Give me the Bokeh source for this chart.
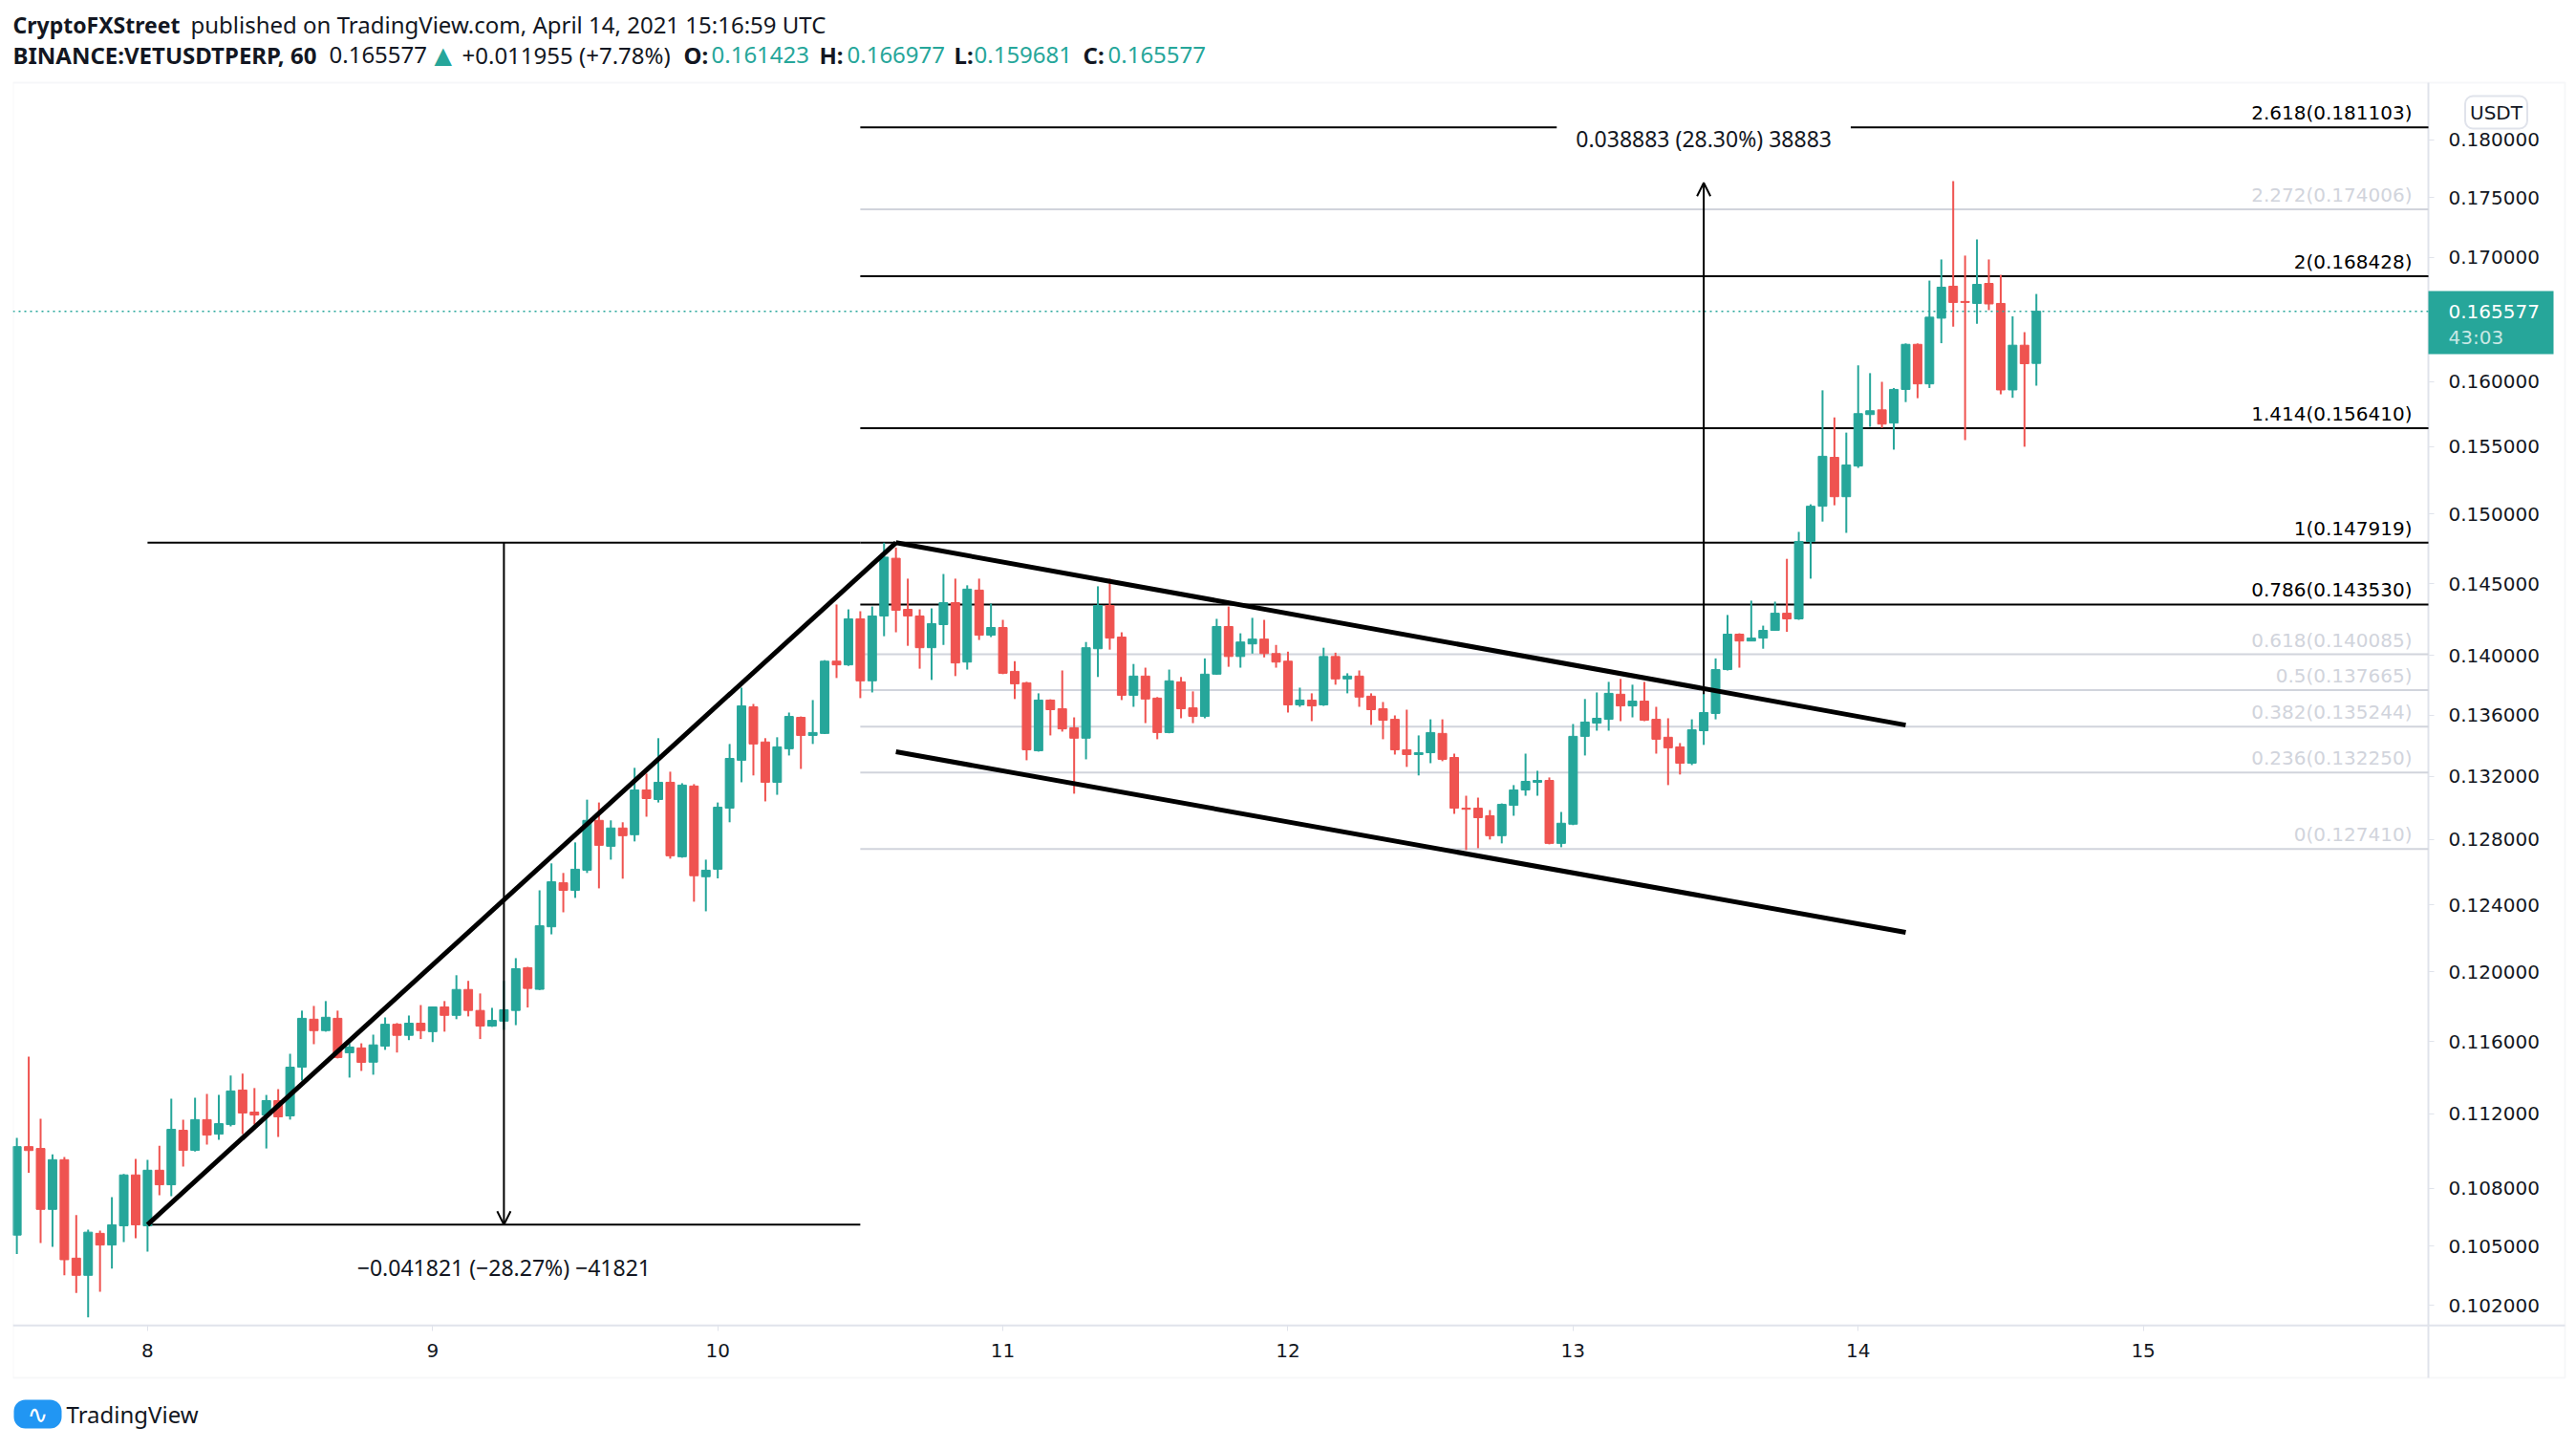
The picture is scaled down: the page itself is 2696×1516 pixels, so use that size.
import datetime as dt
from bokeh.plotting import figure
from bokeh.models import (Range1d, FixedTicker, PrintfTickFormatter, CustomJSTickFormatter,
                          Label, Arrow, OpenHead, BoxAnnotation, ColumnDataSource)
from bokeh.embed import file_html
from bokeh.resources import INLINE

# ---------------- data ----------------
candle_start = dt.datetime(2021, 4, 7, 13, 0)   # first hourly candle (UTC)

open_ = [0.10556, 0.11021, 0.11011, 0.10689, 0.10951, 0.10438, 0.10351, 0.10565, 0.10505, 0.10604,
         0.10870, 0.10604, 0.10895, 0.10818, 0.11109, 0.11001, 0.11167, 0.11088, 0.11140, 0.11329,
         0.11208, 0.11192, 0.11271, 0.11187, 0.11456, 0.11727, 0.11662, 0.11732, 0.11537, 0.11564,
         0.11484, 0.11574, 0.11698, 0.11635, 0.11704, 0.11656, 0.11797, 0.11749, 0.11898, 0.11777,
         0.11688, 0.11716, 0.11777, 0.12025, 0.11899, 0.12267, 0.12533, 0.12487, 0.12610, 0.12920,
         0.12758, 0.12872, 0.12830, 0.13113, 0.13052, 0.13162, 0.12693, 0.13138, 0.12570, 0.12616,
         0.12997, 0.13304, 0.13655, 0.13423, 0.13162, 0.13379, 0.13585, 0.13466, 0.13479, 0.13962,
         0.13937, 0.14253, 0.13829, 0.14273, 0.14680, 0.14319, 0.14273, 0.14054, 0.14213, 0.14366,
         0.13956, 0.14454, 0.14140, 0.14193, 0.13893, 0.13816, 0.13366, 0.13700, 0.13642, 0.13516,
         0.13448, 0.14047, 0.14346, 0.14127, 0.13732, 0.13861, 0.13713, 0.13485, 0.13822, 0.13648,
         0.13591, 0.13874, 0.14200, 0.13994, 0.14080, 0.14113, 0.14014, 0.13962, 0.13668, 0.13700,
         0.13668, 0.13994, 0.13842, 0.13861, 0.13726, 0.13642, 0.13572, 0.13372, 0.13341, 0.13353,
         0.13479, 0.13322, 0.12997, 0.12997, 0.12949, 0.12824, 0.13015, 0.13113, 0.13162, 0.13174,
         0.12776, 0.12896, 0.13460, 0.13547, 0.13572, 0.13739, 0.13661, 0.13693, 0.13572, 0.13454,
         0.13391, 0.13285, 0.13497, 0.13611, 0.13905, 0.14147, 0.14100, 0.14120, 0.14173, 0.14292,
         0.14253, 0.14801, 0.15057, 0.15420, 0.15127, 0.15355, 0.15745, 0.15781, 0.15680, 0.15939,
         0.16293, 0.15982, 0.16502, 0.16761, 0.16637, 0.16621, 0.16784, 0.16621, 0.15935, 0.16286,
         0.161423]
high_ = [0.11068, 0.11515, 0.11172, 0.10980, 0.10965, 0.10660, 0.10584, 0.10579, 0.10753, 0.10875,
         0.10955, 0.10950, 0.11026, 0.11281, 0.11167, 0.11286, 0.11308, 0.11302, 0.11409, 0.11420,
         0.11340, 0.11302, 0.11334, 0.11531, 0.11776, 0.11803, 0.11831, 0.11776, 0.11590, 0.11590,
         0.11639, 0.11737, 0.11705, 0.11748, 0.11808, 0.11800, 0.11831, 0.11981, 0.11948, 0.11875,
         0.11792, 0.11948, 0.12081, 0.12030, 0.12487, 0.12652, 0.12593, 0.12782, 0.13051, 0.13033,
         0.12920, 0.12908, 0.13255, 0.13218, 0.13448, 0.13230, 0.13156, 0.13150, 0.12675, 0.13033,
         0.13410, 0.13783, 0.13674, 0.13448, 0.13454, 0.13617, 0.13591, 0.13700, 0.13969, 0.14353,
         0.14319, 0.14306, 0.14339, 0.14792, 0.14757, 0.14535, 0.14319, 0.14326, 0.14568, 0.14535,
         0.14488, 0.14535, 0.14360, 0.14246, 0.13962, 0.13822, 0.13745, 0.13705, 0.13899, 0.13585,
         0.14093, 0.14481, 0.14535, 0.14160, 0.13943, 0.13918, 0.13720, 0.13905, 0.13855, 0.13758,
         0.13981, 0.14253, 0.14339, 0.14153, 0.14260, 0.14246, 0.14073, 0.14027, 0.13783, 0.13745,
         0.14054, 0.14020, 0.13880, 0.13899, 0.13745, 0.13687, 0.13598, 0.13636, 0.13466, 0.13572,
         0.13572, 0.13347, 0.13076, 0.13064, 0.12985, 0.13027, 0.13144, 0.13347, 0.13236, 0.13193,
         0.12973, 0.13541, 0.13707, 0.13751, 0.13822, 0.13842, 0.13803, 0.13822, 0.13655, 0.13579,
         0.13416, 0.13572, 0.13745, 0.13981, 0.14280, 0.14153, 0.14380, 0.14206, 0.14373, 0.14676,
         0.14870, 0.15071, 0.15932, 0.15723, 0.15607, 0.16127, 0.16066, 0.15998, 0.15950, 0.16300,
         0.16300, 0.16807, 0.16981, 0.17642, 0.17013, 0.17148, 0.16981, 0.16854, 0.16517, 0.16390,
         0.166977]
low_ = [0.10459, 0.10881, 0.10515, 0.10496, 0.10351, 0.10263, 0.10141, 0.10268, 0.10385, 0.10520,
        0.10540, 0.10471, 0.10763, 0.10758, 0.10915, 0.10995, 0.11032, 0.11058, 0.11130, 0.11088,
        0.11140, 0.11011, 0.11073, 0.11167, 0.11382, 0.11585, 0.11656, 0.11505, 0.11398, 0.11435,
        0.11414, 0.11553, 0.11538, 0.11608, 0.11614, 0.11597, 0.11656, 0.11727, 0.11743, 0.11614,
        0.11683, 0.11667, 0.11693, 0.11794, 0.11895, 0.12222, 0.12354, 0.12441, 0.12593, 0.12499,
        0.12675, 0.12558, 0.12788, 0.12943, 0.13033, 0.12681, 0.12687, 0.12418, 0.12360, 0.12560,
        0.12908, 0.13162, 0.13206, 0.13040, 0.13082, 0.13335, 0.13248, 0.13410, 0.13475, 0.13848,
        0.13930, 0.13713, 0.13751, 0.14133, 0.14160, 0.14067, 0.13911, 0.13835, 0.14073, 0.13861,
        0.13905, 0.14107, 0.14127, 0.13874, 0.13707, 0.13304, 0.13360, 0.13466, 0.13491, 0.13089,
        0.13310, 0.13855, 0.14041, 0.13700, 0.13655, 0.13547, 0.13441, 0.13480, 0.13579, 0.13547,
        0.13579, 0.13870, 0.13924, 0.13918, 0.14014, 0.13988, 0.13918, 0.13617, 0.13655, 0.13560,
        0.13661, 0.13803, 0.13745, 0.13655, 0.13535, 0.13441, 0.13341, 0.13261, 0.13206, 0.13285,
        0.13298, 0.12961, 0.12735, 0.12746, 0.12800, 0.12776, 0.12949, 0.13076, 0.13076, 0.12770,
        0.12752, 0.12890, 0.13335, 0.13497, 0.13497, 0.13560, 0.13585, 0.13560, 0.13347, 0.13144,
        0.13212, 0.13273, 0.13404, 0.13572, 0.13899, 0.13918, 0.14100, 0.14047, 0.14173, 0.14163,
        0.14246, 0.14535, 0.14945, 0.15064, 0.14863, 0.15341, 0.15651, 0.15643, 0.15478, 0.15841,
        0.15871, 0.15950, 0.16302, 0.16434, 0.15550, 0.16457, 0.16567, 0.15901, 0.15874, 0.15500,
        0.159681]
close_ = [0.11021, 0.11000, 0.10689, 0.10951, 0.10430, 0.10351, 0.10571, 0.10505, 0.10609, 0.10870,
          0.10609, 0.10895, 0.10818, 0.11114, 0.11001, 0.11167, 0.11083, 0.11145, 0.11324, 0.11203,
          0.11192, 0.11271, 0.11182, 0.11456, 0.11732, 0.11662, 0.11738, 0.11510, 0.11569, 0.11483,
          0.11581, 0.11698, 0.11635, 0.11704, 0.11662, 0.11797, 0.11749, 0.11898, 0.11777, 0.11688,
          0.11720, 0.11781, 0.12019, 0.11904, 0.12273, 0.12539, 0.12487, 0.12616, 0.12920, 0.12764,
          0.12872, 0.12824, 0.13113, 0.13058, 0.13162, 0.12699, 0.13144, 0.12576, 0.12610, 0.13003,
          0.13316, 0.13661, 0.13410, 0.13162, 0.13391, 0.13591, 0.13466, 0.13485, 0.13962, 0.13937,
          0.14253, 0.13829, 0.14273, 0.14688, 0.14313, 0.14273, 0.14054, 0.14220, 0.14366, 0.13950,
          0.14461, 0.14140, 0.14193, 0.13880, 0.13809, 0.13372, 0.13700, 0.13636, 0.13509, 0.13448,
          0.14054, 0.14346, 0.14120, 0.13732, 0.13861, 0.13707, 0.13485, 0.13829, 0.13642, 0.13591,
          0.13874, 0.14200, 0.13994, 0.14093, 0.14113, 0.14014, 0.13956, 0.13668, 0.13700, 0.13661,
          0.13994, 0.13842, 0.13861, 0.13720, 0.13636, 0.13566, 0.13372, 0.13341, 0.13353, 0.13485,
          0.13310, 0.12997, 0.12990, 0.12937, 0.12824, 0.13021, 0.13113, 0.13168, 0.13174, 0.12776,
          0.12902, 0.13460, 0.13554, 0.13579, 0.13745, 0.13661, 0.13693, 0.13566, 0.13441, 0.13385,
          0.13285, 0.13503, 0.13617, 0.13905, 0.14147, 0.14100, 0.14120, 0.14173, 0.14292, 0.14253,
          0.14801, 0.15057, 0.15428, 0.15127, 0.15363, 0.15752, 0.15774, 0.15672, 0.15939, 0.16293,
          0.15982, 0.16510, 0.16753, 0.16629, 0.16629, 0.16776, 0.16617, 0.15935, 0.16286, 0.16140,
          0.165577]

y_tick_values = [0.102, 0.105, 0.108, 0.112, 0.116, 0.120, 0.124, 0.128, 0.132, 0.136,
                 0.140, 0.145, 0.150, 0.155, 0.160, 0.170, 0.175, 0.180]
day_ticks = [dt.datetime(2021, 4, d) for d in range(8, 16)]

fib_ratios = ["2.618", "2.272", "2", "1.414", "1", "0.786", "0.618", "0.5", "0.382", "0.236", "0"]
fib_prices = [0.181103, 0.174006, 0.168428, 0.156410, 0.147919, 0.143530,
              0.140085, 0.137665, 0.135244, 0.132250, 0.127410]
fib_strong = [True, False, True, True, True, True, False, False, False, False, False]
fib_start = dt.datetime(2021, 4, 10, 12)

measure1_times = [dt.datetime(2021, 4, 8, 0), dt.datetime(2021, 4, 10, 12)]
measure1_prices = [0.147919, 0.106098]
measure1_arrow_time = dt.datetime(2021, 4, 9, 6)
measure1_text = "\u22120.041821 (\u221228.27%) \u221241821"

measure2_arrow_time = dt.datetime(2021, 4, 13, 11)
measure2_prices = [0.137396, 0.176279]
measure2_text = "0.038883 (28.30%) 38883"

pole_times = [dt.datetime(2021, 4, 8, 0), dt.datetime(2021, 4, 10, 15)]
pole_prices = [0.106098, 0.147919]
chan_times = [dt.datetime(2021, 4, 10, 15), dt.datetime(2021, 4, 14, 4)]
chan_upper_prices = [0.147919, 0.135340]
chan_lower_prices = [0.133590, 0.122340]

last_price = 0.165577
last_price_text = "0.165577"
countdown_text = "43:03"

# ---------------- layout constants ----------------
HOUR_MS = 3600 * 1000
EPOCH = dt.datetime(1970, 1, 1)


def ms(t):
    return (t - EPOCH).total_seconds() * 1000.0


UP = "#26a69a"
DOWN = "#ef5350"
INK = "#131722"
GREY = "#d1d4dc"
BORDER = "#e0e3eb"

# plotting frame covers the whole picture; the chart pane is a part of it
VIEW_X0, VIEW_X1 = dt.datetime(2021, 4, 7, 12, 40), dt.datetime(2021, 4, 16, 11, 59)
VIEW_Y0, VIEW_Y1 = 0.095266, 0.19265
PANE_X1 = dt.datetime(2021, 4, 16, 0, 0)       # right edge of the candle pane
PANE_Y0, PANE_Y1 = 0.10101, 0.18509             # bottom / top of candle pane
OUTER_X1 = dt.datetime(2021, 4, 16, 11, 30)     # right edge of the price-scale pane
OUTER_Y0 = 0.098464                             # bottom of the time-scale pane
FRAME_W, FRAME_H, FRAME_LEFT = 2677, 1512, 13

times = [candle_start + dt.timedelta(hours=i) for i in range(len(open_))]
colors = [UP if c >= o else DOWN for o, c in zip(open_, close_)]
body_top = [max(o, c) for o, c in zip(open_, close_)]
body_bot = [min(o, c) for o, c in zip(open_, close_)]
src = ColumnDataSource(dict(t=times, high=high_, low=low_, top=body_top, bot=body_bot, color=colors))

p = figure(frame_width=FRAME_W, frame_height=FRAME_H,
           x_axis_type="datetime", y_axis_type="log", y_axis_location="right",
           x_range=Range1d(VIEW_X0, VIEW_X1), y_range=Range1d(VIEW_Y0, VIEW_Y1),
           min_border_left=FRAME_LEFT, min_border_right=0, min_border_top=0, min_border_bottom=0,
           output_backend="svg", toolbar_location=None)
p.background_fill_color = "white"
p.border_fill_color = "white"
p.outline_line_color = None
p.grid.visible = False

# axes (placed on the pane edges)
p.yaxis.fixed_location = ms(PANE_X1)
p.xaxis.fixed_location = PANE_Y0
p.yaxis.ticker = FixedTicker(ticks=y_tick_values)
p.yaxis.formatter = PrintfTickFormatter(format="%.6f")
p.xaxis.ticker = FixedTicker(ticks=[ms(d) for d in day_ticks])
p.xaxis.formatter = CustomJSTickFormatter(code="return String(new Date(tick).getUTCDate());")
for ax in (p.xaxis, p.yaxis):
    ax.axis_line_color = None
    ax.major_tick_line_color = BORDER
    ax.major_tick_line_width = 1
    ax.major_tick_in = 0
    ax.major_tick_out = 6
    ax.minor_tick_line_color = None
    ax.major_label_text_font = "DejaVu Sans"
    ax.major_label_text_font_size = "20px"
    ax.major_label_text_color = INK
p.yaxis.major_label_standoff = 15
p.xaxis.major_label_standoff = 13

# pane borders
p.add_layout(BoxAnnotation(left=ms(VIEW_X0), right=ms(OUTER_X1), bottom=OUTER_Y0, top=PANE_Y1,
                           fill_alpha=0, line_color=BORDER, line_width=2))
p.segment(x0=[PANE_X1, VIEW_X0], x1=[PANE_X1, OUTER_X1], y0=[PANE_Y1, PANE_Y0], y1=[OUTER_Y0, PANE_Y0],
          line_color=BORDER, line_width=2)

# fib levels
fib_colors = ["black" if s else GREY for s in fib_strong]
p.segment(x0=[fib_start] * len(fib_prices), x1=[PANE_X1] * len(fib_prices),
          y0=fib_prices, y1=fib_prices, line_color=fib_colors, line_width=2)
label_x = ms(dt.datetime(2021, 4, 15, 22, 38))
for r, v, s in zip(fib_ratios, fib_prices, fib_strong):
    p.add_layout(Label(x=label_x, y=v, text=f"{r}({v:.6f})", text_align="right",
                       text_baseline="bottom", y_offset=3, text_font="DejaVu Sans",
                       text_font_size="20px", text_color="black" if s else GREY))

# measure 1 (flag pole height)
p.segment(x0=[measure1_times[0]] * 2, x1=[measure1_times[1]] * 2,
          y0=measure1_prices, y1=measure1_prices, line_color="black", line_width=2)
p.add_layout(Arrow(end=OpenHead(size=14, line_width=2, line_color="black"),
                   x_start=ms(measure1_arrow_time), y_start=measure1_prices[0],
                   x_end=ms(measure1_arrow_time), y_end=measure1_prices[1],
                   line_width=2, line_color="black"))
p.add_layout(Label(x=ms(measure1_arrow_time), y=measure1_prices[1], y_offset=-45,
                   text=measure1_text, text_align="center", text_baseline="middle",
                   text_font="Noto Sans", text_font_size="23px", text_color=INK))

# measure 2 (target)
p.add_layout(Arrow(end=OpenHead(size=14, line_width=2, line_color="black"),
                   x_start=ms(measure2_arrow_time), y_start=measure2_prices[0],
                   x_end=ms(measure2_arrow_time), y_end=measure2_prices[1],
                   line_width=2, line_color="black"))
p.add_layout(Label(x=ms(measure2_arrow_time), y=fib_prices[0], y_offset=-12,
                   text=measure2_text, text_align="center", text_baseline="middle",
                   text_font="Noto Sans", text_font_size="23px", text_color=INK,
                   background_fill_color="white", padding=20))

# candles
p.segment(x0="t", x1="t", y0="low", y1="high", line_color="color", line_width=2, source=src)
p.vbar(x="t", width=0.72 * HOUR_MS, top="top", bottom="bot", fill_color="color",
       line_color="color", line_width=1, source=src)

# flag lines
p.line(pole_times, pole_prices, line_color="black", line_width=5)
p.line(chan_times, chan_upper_prices, line_color="black", line_width=5)
p.line(chan_times, chan_lower_prices, line_color="black", line_width=5)

# last price line + price-scale tag
p.segment(x0=[VIEW_X0], x1=[PANE_X1], y0=[last_price], y1=[last_price], line_color=UP,
          line_width=1.5, line_dash="2 4")
p.add_layout(BoxAnnotation(left=2541 - FRAME_LEFT, right=2672 - FRAME_LEFT,
                           top=FRAME_H - 304, bottom=FRAME_H - 370,
                           left_units="screen", right_units="screen", top_units="screen",
                           bottom_units="screen", fill_color=UP, fill_alpha=1, line_color=None))
p.add_layout(Label(x=2562 - FRAME_LEFT, y=last_price, x_units="screen", text=last_price_text,
                   text_align="left", text_baseline="middle", text_font="DejaVu Sans",
                   text_font_size="20px", text_color="white"))
p.add_layout(Label(x=2562 - FRAME_LEFT, y=last_price, y_offset=-27, x_units="screen",
                   text=countdown_text, text_align="left", text_baseline="middle",
                   text_font="DejaVu Sans", text_font_size="20px", text_color="white",
                   text_alpha=0.75))

# USDT tag
p.add_layout(Label(x=2612 - FRAME_LEFT, y=FRAME_H - 117, x_units="screen", y_units="screen",
                   text="USDT", text_align="center", text_baseline="middle",
                   text_font="DejaVu Sans", text_font_size="20px", text_color=INK, padding=5,
                   border_line_color=BORDER, border_line_width=2, border_radius=8,
                   background_fill_color="white"))

# header
header_segments = [
    ("CryptoFXStreet", 13, 25, "bold", INK, "Noto Sans", "23px"),
    ("published on TradingView.com, April 14, 2021 15:16:59 UTC", 199, 25, "normal", INK, "Noto Sans", "24px"),
    ("BINANCE:VETUSDTPERP, 60", 13, 57, "bold", INK, "Noto Sans", "24px"),
    ("0.165577", 344, 57, "normal", INK, "Noto Sans", "24px"),
    ("\u25b2", 454, 57, "normal", UP, "DejaVu Sans", "24px"),
    ("+0.011955 (+7.78%)", 483, 57, "normal", INK, "Noto Sans", "24px"),
    ("O:", 715, 57, "bold", INK, "Noto Sans", "24px"),
    ("0.161423", 744, 57, "normal", UP, "Noto Sans", "24px"),
    ("H:", 857, 57, "bold", INK, "Noto Sans", "24px"),
    ("0.166977", 886, 57, "normal", UP, "Noto Sans", "24px"),
    ("L:", 998, 57, "bold", INK, "Noto Sans", "24px"),
    ("0.159681", 1019, 57, "normal", UP, "Noto Sans", "24px"),
    ("C:", 1133, 57, "bold", INK, "Noto Sans", "24px"),
    ("0.165577", 1159, 57, "normal", UP, "Noto Sans", "24px"),
]
for txt, px, py, style, col, font, size in header_segments:
    p.add_layout(Label(x=px - FRAME_LEFT, y=FRAME_H - py, x_units="screen", y_units="screen",
                       text=txt, text_align="left", text_baseline="middle", text_font=font,
                       text_font_size=size, text_font_style=style, text_color=col))

# footer (logo badge + wordmark)
p.add_layout(BoxAnnotation(left=14 - FRAME_LEFT, right=64 - FRAME_LEFT,
                           top=FRAME_H - 1464, bottom=FRAME_H - 1494,
                           left_units="screen", right_units="screen", top_units="screen",
                           bottom_units="screen", fill_color="#2196f3", fill_alpha=1,
                           line_color=None, border_radius=12))
p.add_layout(Label(x=39 - FRAME_LEFT, y=FRAME_H - 1479, x_units="screen", y_units="screen",
                   text="\u223f", text_align="center", text_baseline="middle", text_font="DejaVu Sans",
                   text_font_size="26px", text_color="white"))
p.add_layout(Label(x=69 - FRAME_LEFT, y=FRAME_H - 1479, x_units="screen", y_units="screen",
                   text="TradingView", text_align="left", text_baseline="middle",
                   text_font="Noto Sans", text_font_size="24px", text_color=INK))

open("out.html", "w").write(file_html(p, INLINE))
